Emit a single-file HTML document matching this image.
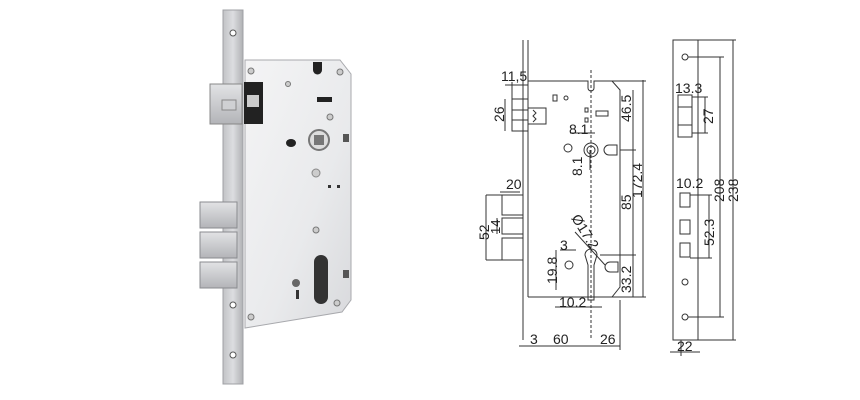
<!DOCTYPE html>
<html><head><meta charset="utf-8"><style>
html,body{margin:0;padding:0;background:#fff}
svg{display:block}
text{font-family:"Liberation Sans Narrow","Liberation Sans",Arial,sans-serif;font-size:14px;fill:#222}
</style></head><body>
<svg width="860" height="400" viewBox="0 0 860 400" xmlns="http://www.w3.org/2000/svg">
<defs>
<linearGradient id="pl" x1="0" x2="1"><stop offset="0" stop-color="#c2c3c6"/><stop offset="0.5" stop-color="#dcdde0"/><stop offset="1" stop-color="#b0b1b4"/></linearGradient>
<linearGradient id="cs" x1="0" y1="0" x2="1" y2="1"><stop offset="0" stop-color="#f4f4f5"/><stop offset="0.6" stop-color="#e9eaec"/><stop offset="1" stop-color="#d8d9dc"/></linearGradient>
<linearGradient id="bl" x1="0" y1="0" x2="0" y2="1"><stop offset="0" stop-color="#e2e3e5"/><stop offset="1" stop-color="#b3b4b8"/></linearGradient>
</defs>
<!-- photo -->
<path d="M245 60 L340 60 L351 74 L351 300 L342 312 L245 328 Z" fill="url(#cs)" stroke="#a8a9ad" stroke-width="1"/>
<rect x="223" y="10" width="20" height="374" fill="url(#pl)" stroke="#9fa0a4"/>
<circle cx="233" cy="33" r="3" fill="#fff" stroke="#555"/>
<circle cx="233" cy="305" r="3" fill="#fff" stroke="#555"/>
<circle cx="233" cy="355" r="3" fill="#fff" stroke="#555"/>
<rect x="210" y="84" width="32" height="40" fill="url(#bl)" stroke="#888"/>
<rect x="222" y="100" width="14" height="10" fill="#cfd0d3" stroke="#888"/>
<rect x="244" y="82" width="19" height="42" fill="#222"/>
<rect x="247" y="95" width="12" height="12" fill="#ccc"/>
<rect x="200" y="202" width="37" height="26" fill="url(#bl)" stroke="#8a8b8f"/>
<rect x="200" y="232" width="37" height="26" fill="url(#bl)" stroke="#8a8b8f"/>
<rect x="200" y="262" width="37" height="26" fill="url(#bl)" stroke="#8a8b8f"/>
<circle cx="319" cy="140" r="10" fill="#ddd" stroke="#777" stroke-width="2"/>
<rect x="314" y="135" width="10" height="10" fill="#777"/>
<ellipse cx="291" cy="143" rx="5" ry="4" fill="#222"/>
<circle cx="316" cy="173" r="4" fill="#ccc" stroke="#888"/>
<path d="M313 62 h9 v8 a4.5 4.5 0 0 1 -9 0 Z" fill="#222"/>
<rect x="317" y="97" width="15" height="5" fill="#222"/>
<path d="M314 262 a7 7 0 0 1 14 0 v35 a7 7 0 0 1 -14 0 Z" fill="#333"/>
<ellipse cx="296" cy="283" rx="4" ry="4" fill="#666"/>
<rect x="296" y="290" width="3" height="9" fill="#333"/>
<rect x="343" y="134" width="6" height="8" fill="#555"/>
<rect x="343" y="270" width="6" height="8" fill="#555"/>
<g fill="#ccc" stroke="#777"><circle cx="251" cy="71" r="3"/><circle cx="340" cy="72" r="3"/><circle cx="330" cy="117" r="3"/><circle cx="316" cy="230" r="3"/><circle cx="251" cy="317" r="3"/><circle cx="337" cy="303" r="3"/><circle cx="288" cy="84" r="2.5"/></g>
<rect x="328" y="185" width="3" height="3" fill="#333"/><rect x="337" y="185" width="3" height="3" fill="#333"/>

<!-- drawing 1 -->
<g fill="none" stroke="#333" stroke-width="1">
<line x1="523" y1="40" x2="523" y2="340"/><line x1="528" y1="40" x2="528" y2="297"/>
<path d="M528 81 H588 V88 A3 3 0 0 0 594 88 V81 H612 L620 90 V287 L612 297 H528"/>
<line x1="591" y1="70" x2="591" y2="340" stroke-dasharray="3 2"/>
<rect x="512" y="99" width="16" height="32"/><rect x="512" y="110" width="16" height="10"/>
<rect x="528" y="108" width="18" height="16"/>
<path d="M533 110 l3 3 l-3 3 l3 3 l-3 3" />
<rect x="553" y="95" width="4" height="6"/><circle cx="566" cy="98" r="2"/>
<rect x="585" y="108" width="3" height="4"/><rect x="585" y="118" width="3" height="4"/>
<rect x="596" y="111" width="12" height="5"/>
<rect x="502" y="195" width="21" height="20"/><rect x="502" y="218" width="21" height="16"/><rect x="502" y="238" width="21" height="22"/>
<circle cx="591" cy="150" r="7"/><circle cx="591" cy="150" r="4"/>
<circle cx="568" cy="148" r="4"/>
<path d="M609 145 h8 v10 h-8 a5 5 0 0 1 0 -10"/>
<path d="M585 255 a6 6 0 0 1 12 0 l-3 10 v35 h-6 v-35 Z"/>
<circle cx="569" cy="265" r="4"/>
<path d="M610 262 h8 v10 h-8 a5 5 0 0 1 0 -10"/>
<line x1="633" y1="90" x2="633" y2="297"/><line x1="643" y1="80" x2="643" y2="297"/>
<line x1="620" y1="150" x2="636" y2="150"/><line x1="600" y1="255" x2="636" y2="255"/>
<line x1="612" y1="297" x2="646" y2="297"/><line x1="600" y1="81" x2="646" y2="81"/>
<line x1="505" y1="85" x2="528" y2="85"/><line x1="512" y1="82" x2="512" y2="99"/>
<line x1="505" y1="99" x2="505" y2="131"/>
<line x1="500" y1="192" x2="520" y2="192"/>
<line x1="486" y1="195" x2="502" y2="195"/><line x1="486" y1="260" x2="502" y2="260"/><line x1="486" y1="195" x2="486" y2="260"/>
<line x1="497" y1="218" x2="497" y2="234"/>
<line x1="556" y1="250" x2="556" y2="290"/><line x1="560" y1="250" x2="576" y2="250"/>
<line x1="555" y1="307" x2="602" y2="307"/>
<line x1="575" y1="232" x2="605" y2="265"/>
<line x1="519" y1="346" x2="620" y2="346"/><line x1="620" y1="300" x2="620" y2="350"/>
<line x1="590" y1="150" x2="590" y2="170"/><line x1="570" y1="133" x2="595" y2="133"/>
</g>
<text x="501" y="81">11,5</text>
<text transform="translate(504,122) rotate(-90)">26</text>
<text x="506" y="189">20</text>
<text transform="translate(489,240) rotate(-90)">52</text>
<text transform="translate(500,234) rotate(-90)" style="font-size:13px">14</text>
<text x="569" y="134">8.1</text>
<text transform="translate(582,176) rotate(-90)">8.1</text>
<text transform="translate(571,218) rotate(58)">Ø17.2</text>
<text x="560" y="250">3</text>
<text transform="translate(557,284) rotate(-90)">19.8</text>
<text x="559" y="307">10.2</text>
<text transform="translate(631,122) rotate(-90)">46.5</text>
<text transform="translate(631,210) rotate(-90)">85</text>
<text transform="translate(642,198) rotate(-90)">172.4</text>
<text transform="translate(631,293) rotate(-90)">33.2</text>
<text x="530" y="344">3</text>
<text x="553" y="344">60</text>
<text x="600" y="344">26</text>

<!-- drawing 3 -->
<g fill="none" stroke="#333">
<rect x="673" y="40" width="25" height="300"/>
<line x1="681" y1="340" x2="681" y2="356"/>
<circle cx="685" cy="57" r="3"/><circle cx="685" cy="282" r="3"/><circle cx="685" cy="317" r="3"/>
<path d="M678 95 h14 v42 h-14 Z M678 107 h14 M678 125 h14"/>
<rect x="680" y="193" width="10" height="14"/><rect x="680" y="220" width="10" height="14"/><rect x="680" y="243" width="10" height="14"/>
<line x1="720" y1="57" x2="720" y2="317"/><line x1="733" y1="40" x2="733" y2="340"/>
<line x1="688" y1="57" x2="724" y2="57"/><line x1="688" y1="317" x2="724" y2="317"/>
<line x1="698" y1="40" x2="736" y2="40"/><line x1="698" y1="340" x2="736" y2="340"/>
<line x1="705" y1="97" x2="705" y2="133"/><line x1="692" y1="97" x2="708" y2="97"/><line x1="692" y1="133" x2="708" y2="133"/>
<line x1="709" y1="195" x2="709" y2="258"/><line x1="690" y1="195" x2="712" y2="195"/><line x1="690" y1="258" x2="712" y2="258"/>
<line x1="670" y1="352" x2="700" y2="352"/>
</g>
<text x="675" y="93">13.3</text>
<text transform="translate(713,124) rotate(-90)">27</text>
<text x="676" y="188">10.2</text>
<text transform="translate(714,246) rotate(-90)">52.3</text>
<text transform="translate(724,202) rotate(-90)">208</text>
<text transform="translate(738,202) rotate(-90)">238</text>
<text x="677" y="351">22</text>
</svg>
</body></html>
